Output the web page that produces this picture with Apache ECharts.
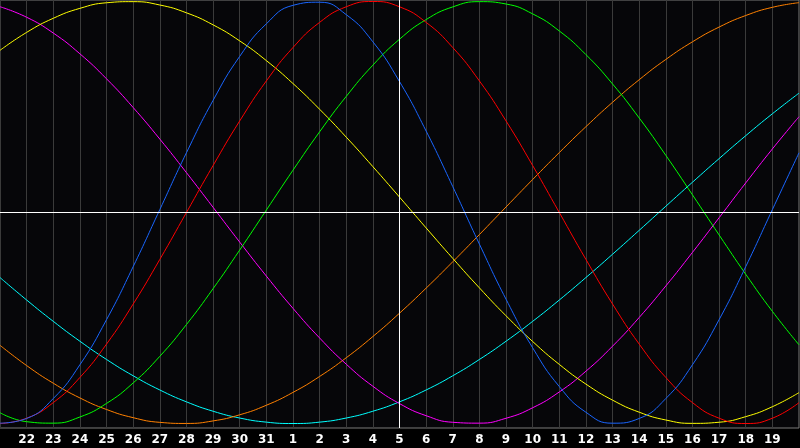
<!DOCTYPE html>
<html>
<head>
<meta charset="utf-8">
<script src="https://cdn.jsdelivr.net/npm/echarts@6/dist/echarts.min.js"></script>
<style>
html,body{margin:0;padding:0;background:#000;}
#chart{width:800px;height:448px;}
</style>
</head>
<body>
<div id="chart"></div>
<script>
// Day labels (index 0 .. 30)
var days = ['21','22','23','24','25','26','27','28','29','30','31','1','2','3','4','5','6','7','8','9','10','11','12','13','14','15','16','17','18','19','20'];

// Series values read per day
var blue = [-0.9985,-0.9762,-0.8816,-0.7216,-0.5078,-0.2566,0.0136,0.2830,0.5313,0.7399,0.8941,0.9818,0.9966,0.9376,0.8090,0.6205,0.3859,0.1226,-0.1497,-0.4110,-0.6413,-0.8248,-0.9467,-0.9985,-0.9762,-0.8816,-0.7216,-0.5078,-0.2566,0.0136,0.2830];
var red = [-1,-0.9749,-0.9010,-0.7818,-0.6235,-0.4339,-0.2225,0,0.2225,0.4339,0.6235,0.7818,0.9010,0.9749,1,0.9749,0.9010,0.7818,0.6235,0.4339,0.2225,0,-0.2225,-0.4339,-0.6235,-0.7818,-0.9010,-0.9749,-1,-0.9749,-0.9010];
var green = [-0.9487,-0.9914,-0.9983,-0.9691,-0.9048,-0.8078,-0.6816,-0.5310,-0.3610,-0.1780,0.0115,0.2004,0.3822,0.5501,0.6983,0.8211,0.9143,0.9744,0.9993,0.9881,0.9412,0.8603,0.7482,0.6090,0.4480,0.2708,0.0837,-0.1064,-0.2927,-0.4684,-0.6271];
var yellow = [0.7685,0.8536,0.9204,0.9675,0.9940,0.9993,0.9834,0.9464,0.8893,0.8133,0.7199,0.6113,0.4894,0.3572,0.2174,0.0731,-0.0731,-0.2174,-0.3572,-0.4894,-0.6113,-0.7199,-0.8133,-0.8893,-0.9464,-0.9834,-0.9993,-0.9940,-0.9675,-0.9204,-0.8536];
var magenta = [0.9752,0.9254,0.8505,0.7521,0.6335,0.4975,0.3481,0.1890,0.0247,-0.1402,-0.3012,-0.4540,-0.5946,-0.7188,-0.8235,-0.9056,-0.9630,-0.9942,-0.9983,-0.9751,-0.9254,-0.8504,-0.7521,-0.6334,-0.4975,-0.3480,-0.1890,-0.0248,0.1402,0.3012,0.4540];
var orange = [-0.6293,-0.7254,-0.8090,-0.8788,-0.9336,-0.9724,-0.9945,-0.9997,-0.9877,-0.9588,-0.9135,-0.8526,-0.7771,-0.6884,-0.5878,-0.4772,-0.3584,-0.2334,-0.1045,0.0262,0.1564,0.2840,0.4067,0.5225,0.6293,0.7254,0.8090,0.8788,0.9336,0.9724,0.9945];
var cyan = [-0.3082,-0.4147,-0.5158,-0.6101,-0.6965,-0.7738,-0.8410,-0.8973,-0.9418,-0.9740,-0.9935,-1,-0.9935,-0.9740,-0.9418,-0.8973,-0.8410,-0.7738,-0.6965,-0.6101,-0.5158,-0.4147,-0.3082,-0.1977,-0.0845,0.0297,0.1435,0.2554,0.3640,0.4679,0.5657];

var todayIndex = 15;

function pairs(arr){ return arr.map(function(v,i){ return [i, v]; }); }

var seriesDefs = [
  {name:'cyan', data:cyan, color:'#00ffff'},
  {name:'orange', data:orange, color:'#ff8000'},
  {name:'magenta', data:magenta, color:'#ff00ff'},
  {name:'yellow', data:yellow, color:'#ffff00'},
  {name:'green', data:green, color:'#00ff00'},
  {name:'red', data:red, color:'#ff0000'},
  {name:'blue', data:blue, color:'#1a66ff'}
];

var series = seriesDefs.map(function(s){
  return {
    name: s.name, type:'line', data: pairs(s.data), smooth: true,
    showSymbol:false, symbol:'none', animation:false, silent:true,
    lineStyle:{color:s.color, width:1}, z: 3
  };
});
series[0].markLine = {
  silent:true, symbol:['none','none'], animation:false,
  label:{show:false},
  lineStyle:{color:'#ffffff', width:1, type:'solid'},
  data:[{xAxis: todayIndex}, {yAxis: 0}]
};

var chart = echarts.init(document.getElementById('chart'), null, {renderer:'canvas'});
chart.setOption({
  backgroundColor:'#000000',
  animation:false,
  grid:{left:0, right:1, top:0, bottom:20, show:true, borderColor:'#7a7a7a', borderWidth:1, backgroundColor:'#060609'},
  xAxis:{
    type:'value', min:0, max:30, interval:1,
    axisLine:{show:false}, axisTick:{show:false},
    splitLine:{show:true, lineStyle:{color:'#3a3a3a', width:1}},
    axisLabel:{
      show:true, showMinLabel:false, showMaxLabel:false,
      color:'#ffffff', fontFamily:'DejaVu Sans', fontWeight:'bold', fontSize:12, margin:6,
      formatter:function(v){ return days[Math.round(v)]; }
    }
  },
  yAxis:{
    type:'value', min:-1.0213, max:1.0071,
    axisLine:{show:false}, axisTick:{show:false}, axisLabel:{show:false}, splitLine:{show:false}
  },
  series: series
});
</script>
</body>
</html>
